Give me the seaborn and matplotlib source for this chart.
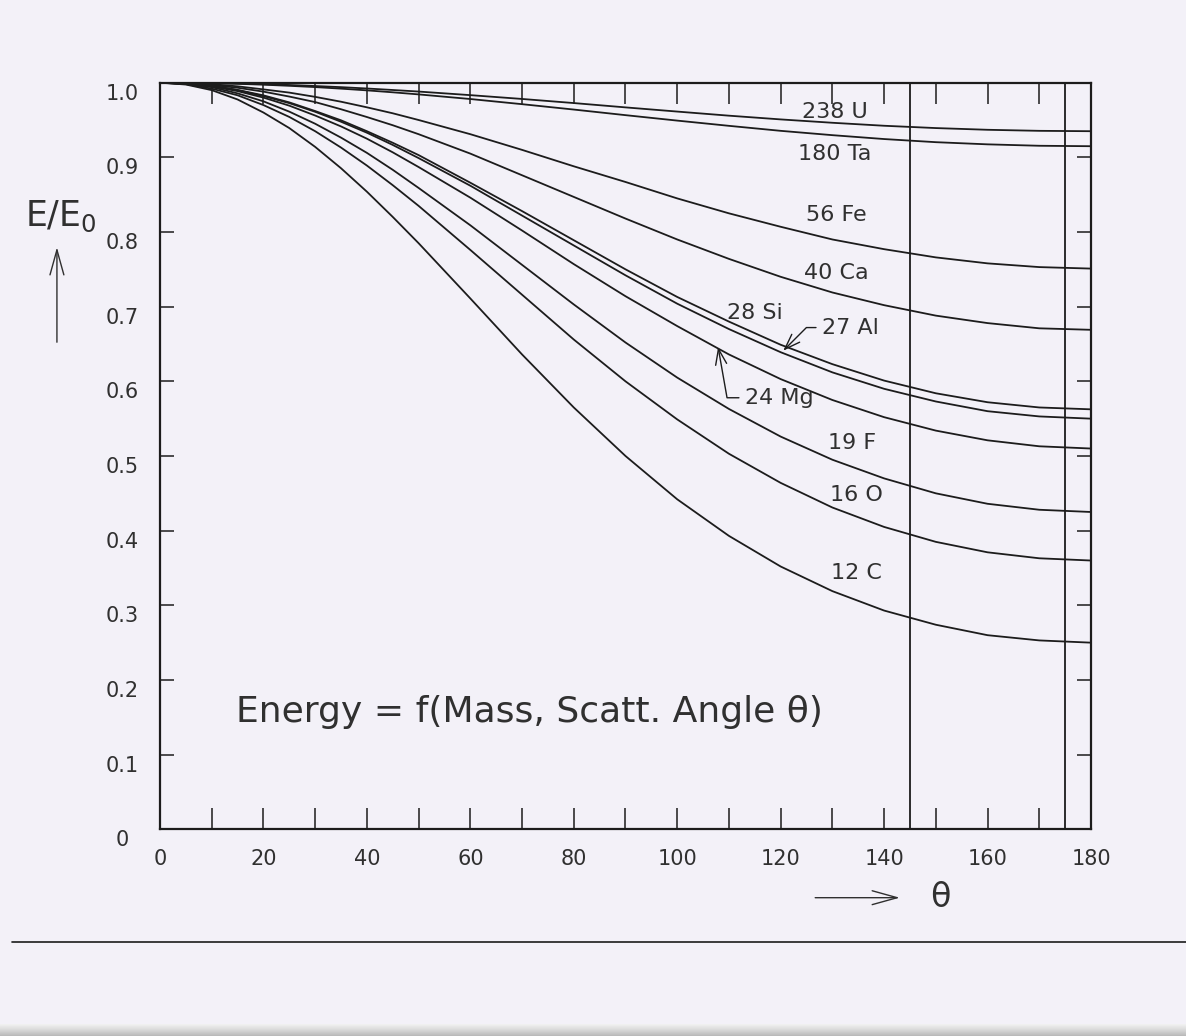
import numpy as np
import pandas as pd
import matplotlib
matplotlib.use("Agg")
import matplotlib.pyplot as plt
import matplotlib.transforms as mtransforms
from matplotlib.lines import Line2D
from matplotlib.patches import FancyArrowPatch
import seaborn as sns

# scattering angle (deg) and E/E0 for each target
angles = [0, 5, 10, 15, 20, 25, 30, 35, 40, 45, 50, 60, 70, 80, 90,
          100, 110, 120, 130, 140, 150, 160, 170, 180]

u238 = [1.000, 0.9999, 0.9995, 0.9989, 0.998, 0.9969, 0.9955, 0.9940, 0.9922, 0.9902,
        0.9881, 0.9833, 0.9782, 0.9727, 0.9669,
        0.9613, 0.9558, 0.9508, 0.9463, 0.9423, 0.9392, 0.9369, 0.9355, 0.935]
ta180 = [1.000, 0.9998, 0.9993, 0.9985, 0.9973, 0.9958, 0.9941, 0.9920, 0.9897, 0.9871,
         0.9843, 0.9781, 0.9712, 0.964, 0.9565,
         0.9492, 0.9422, 0.9355, 0.9297, 0.9245, 0.9203, 0.9174, 0.9155, 0.9149]
fe56 = [1.000, 0.9995, 0.998, 0.9951, 0.991, 0.9867, 0.981, 0.9745, 0.967, 0.959,
        0.950, 0.931, 0.910, 0.888, 0.867,
        0.845, 0.825, 0.807, 0.790, 0.777, 0.766, 0.758, 0.753, 0.751]
ca40 = [1.000, 0.9992, 0.997, 0.9932, 0.988, 0.9814, 0.974, 0.9644, 0.954, 0.943,
        0.931, 0.905, 0.876, 0.847, 0.818,
        0.790, 0.764, 0.740, 0.719, 0.702, 0.688, 0.678, 0.671, 0.669]
si28 = [1.000, 0.9989, 0.996, 0.9903, 0.983, 0.9736, 0.962, 0.9496, 0.935, 0.9195,
        0.903, 0.866, 0.828, 0.789, 0.750,
        0.713, 0.680, 0.649, 0.623, 0.601, 0.584, 0.572, 0.565, 0.5625]
al27 = [1.000, 0.9989, 0.996, 0.9900, 0.982, 0.9726, 0.961, 0.9477, 0.933, 0.9166,
        0.899, 0.862, 0.822, 0.782, 0.742,
        0.704, 0.670, 0.639, 0.612, 0.590, 0.573, 0.560, 0.553, 0.550]
mg24 = [1.000, 0.9987, 0.995, 0.9887, 0.980, 0.9692, 0.956, 0.9414, 0.925, 0.9067,
        0.887, 0.846, 0.802, 0.757, 0.714,
        0.674, 0.636, 0.603, 0.575, 0.552, 0.534, 0.521, 0.513, 0.510]
f19 = [1.000, 0.9984, 0.994, 0.9857, 0.975, 0.9612, 0.945, 0.9264, 0.906, 0.8833,
       0.859, 0.809, 0.756, 0.703, 0.652,
       0.605, 0.563, 0.526, 0.495, 0.470, 0.450, 0.436, 0.428, 0.425]
o16 = [1.000, 0.9981, 0.992, 0.9831, 0.970, 0.9541, 0.935, 0.9131, 0.889, 0.8627,
       0.835, 0.776, 0.716, 0.656, 0.600,
       0.549, 0.503, 0.464, 0.431, 0.405, 0.385, 0.371, 0.363, 0.360]
c12 = [1.000, 0.9975, 0.990, 0.9775, 0.960, 0.9392, 0.914, 0.8854, 0.854, 0.8202,
       0.785, 0.711, 0.636, 0.565, 0.500,
       0.442, 0.393, 0.352, 0.319, 0.293, 0.274, 0.260, 0.253, 0.250]

elements = ["238 U", "180 Ta", "56 Fe", "40 Ca", "28 Si", "27 Al", "24 Mg", "19 F", "16 O", "12 C"]
series = [u238, ta180, fe56, ca40, si28, al27, mg24, f19, o16, c12]

detector_angles = [145, 175]
y_ticks = [0, 0.1, 0.2, 0.3, 0.4, 0.5, 0.6, 0.7, 0.8, 0.9, 1.0]
y_ticklabels = ["0", "0.1", "0.2", "0.3", "0.4", "0.5", "0.6", "0.7", "0.8", "0.9", "1.0"]

df = pd.DataFrame({
    "element": np.repeat(elements, len(angles)),
    "angle": angles * len(elements),
    "ratio": np.concatenate(series),
})

sns.set_style("white")
plt.rcParams["font.family"] = ["DejaVu Sans"]

bg = "#f3f1f8"
ink = "#1c1c1c"
txt = "#303030"

fig = plt.figure(figsize=(11.86, 10.36), dpi=100, facecolor=bg)
ax = fig.add_axes([0.1349, 0.1995, 0.7850, 0.7207])
ax.set_facecolor(bg)

sns.lineplot(data=df, x="angle", y="ratio", units="element", estimator=None,
             color=ink, lw=1.3, ax=ax, legend=False)

for a in detector_angles:
    ax.axvline(a, color=ink, lw=1.3)

ax.set_xlim(0, 180)
ax.set_ylim(0, 1)
ax.set_xlabel("")
ax.set_ylabel("")

for s in ax.spines.values():
    s.set_color(ink)
    s.set_linewidth(1.6)

ax.set_xticks(range(0, 181, 20))
ax.set_xticks(range(0, 181, 10), minor=True)
ax.tick_params(axis="x", which="both", direction="in", length=15, width=1.1,
               top=True, bottom=True, color=ink, pad=14, labelsize=15, labelcolor=txt)

ax.set_yticks(y_ticks)
ax.set_yticklabels(y_ticklabels)
ax.tick_params(axis="y", which="both", direction="in", length=10, width=1.1,
               left=True, right=True, color=ink, pad=27, labelsize=15, labelcolor=txt)
shift = mtransforms.ScaledTranslation(0, -0.09, fig.dpi_scale_trans)
for lbl in ax.get_yticklabels():
    lbl.set_horizontalalignment("center")
    lbl.set_transform(lbl.get_transform() + shift)

# curve labels
label_pos = {
    "238 U": (130.5, 0.961), "180 Ta": (130.5, 0.905), "56 Fe": (130.8, 0.823),
    "40 Ca": (130.8, 0.745), "28 Si": (115.0, 0.692), "19 F": (133.8, 0.517),
    "16 O": (134.6, 0.448), "12 C": (134.6, 0.343),
}
for name, (x, y) in label_pos.items():
    ax.text(x, y, name, ha="center", va="center", fontsize=16, color=txt)

arrow_kw = dict(arrowstyle="->,head_length=0.7,head_width=0.25", color=ink, lw=1.0,
                shrinkA=2, shrinkB=0)
ax.annotate("27 Al", xy=(120.5, 0.641), xytext=(128.0, 0.672), ha="left", va="center",
            fontsize=16, color=txt,
            arrowprops=dict(connectionstyle="angle,angleA=0,angleB=45,rad=0", **arrow_kw))
ax.annotate("24 Mg", xy=(107.9, 0.646), xytext=(113.1, 0.578), ha="left", va="center",
            fontsize=16, color=txt,
            arrowprops=dict(connectionstyle="angle,angleA=0,angleB=100,rad=0", **arrow_kw))

ax.text(71.5, 0.157, "Energy = f(Mass, Scatt. Angle \u03b8)", ha="center", va="center",
        fontsize=26, color=txt)

# axis captions outside the frame
fig.text(0.051, 0.791, "E/E$_\\mathregular{0}$", ha="center", va="center", fontsize=25, color=txt)
fig.add_artist(FancyArrowPatch((0.048, 0.667), (0.048, 0.764), transform=fig.transFigure,
                               arrowstyle="->,head_length=0.9,head_width=0.25",
                               mutation_scale=20, color=txt, lw=1.0))
fig.add_artist(FancyArrowPatch((0.685, 0.1335), (0.761, 0.1335), transform=fig.transFigure,
                               arrowstyle="->,head_length=0.9,head_width=0.25",
                               mutation_scale=20, color=txt, lw=1.0))
fig.text(0.793, 0.1335, "\u03b8", ha="center", va="center", fontsize=24, color=txt)

# page rule and faint scanner shadow at the very bottom
fig.add_artist(Line2D([0.01, 1.0], [0.091, 0.091], transform=fig.transFigure, color=ink, lw=1.2))
shade = fig.add_axes([0, 0, 1, 0.012])
shade.imshow(np.linspace(0, 1, 50)[:, None], aspect="auto", cmap="Greys",
             vmin=-0.3, vmax=3.0, extent=[0, 1, 0, 1], origin="upper")
shade.axis("off")

fig.savefig("out.png", dpi=100, facecolor=bg)
